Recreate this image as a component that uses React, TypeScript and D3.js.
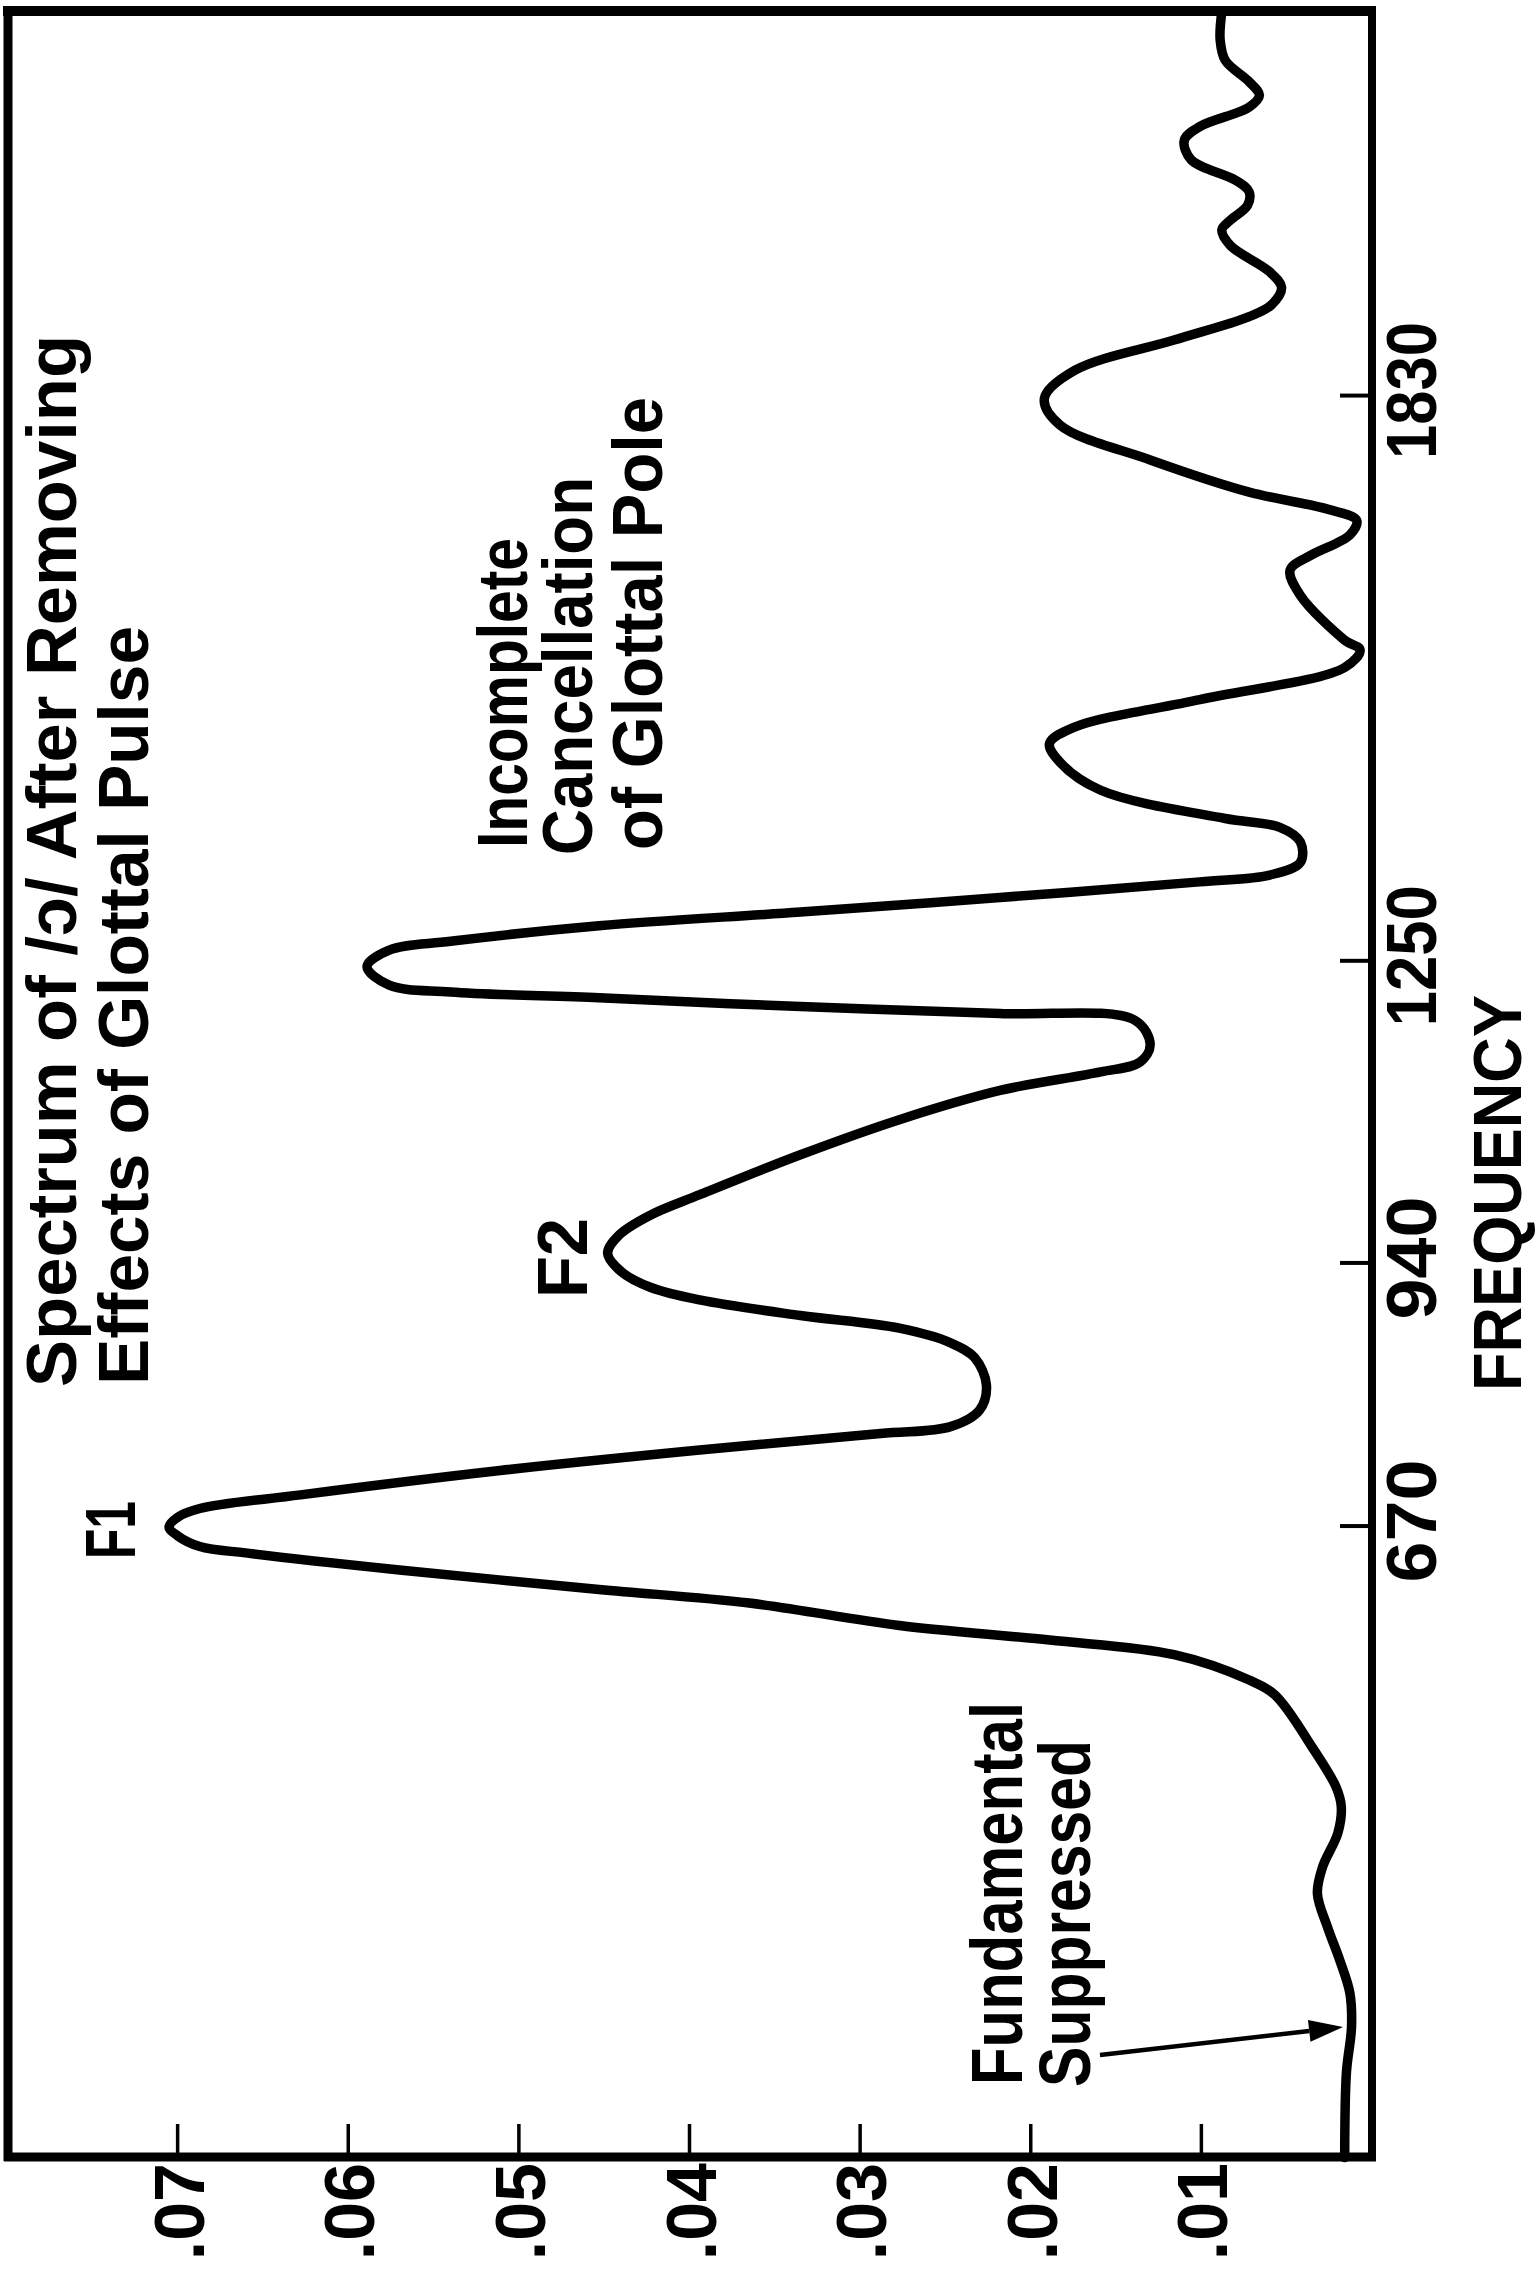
import React from 'react';
import * as d3 from 'd3';

// ---- Data (frequency in Hz, amplitude) ----
const freqHz = [22, 109, 156, 191, 225, 258, 293, 320, 355, 382, 402, 443, 497, 512, 538, 553, 568, 591, 605, 625, 642, 649, 660, 669, 679, 688, 702, 727, 748, 765, 772, 789, 815, 843, 858, 873, 886, 902, 915, 931, 950, 969, 989, 1010, 1051, 1087, 1117, 1136, 1146, 1164, 1189, 1196, 1203, 1212, 1218, 1225, 1244, 1261, 1270, 1286, 1300, 1315, 1331, 1338, 1351, 1372, 1387, 1396, 1425, 1454, 1473, 1490, 1518, 1551, 1569, 1579, 1625, 1651, 1666, 1687, 1702, 1713, 1731, 1764, 1800, 1827, 1856, 1887, 1911, 1923, 1941, 1957, 1984, 2000, 2010, 2025, 2039, 2051, 2072, 2092, 2106, 2126, 2138, 2152, 2174, 2195, 2224];
const amplitude = [0.0016, 0.0015, 0.0012, 0.0013, 0.0019, 0.0026, 0.0032, 0.0029, 0.0020, 0.0018, 0.0021, 0.0035, 0.0057, 0.0072, 0.0116, 0.0189, 0.0277, 0.0365, 0.0453, 0.0570, 0.0658, 0.0687, 0.0700, 0.0705, 0.0700, 0.0687, 0.0628, 0.0511, 0.0394, 0.0288, 0.0247, 0.0230, 0.0226, 0.0233, 0.0247, 0.0277, 0.0335, 0.0394, 0.0423, 0.0440, 0.0448, 0.0441, 0.0423, 0.0394, 0.0335, 0.0277, 0.0218, 0.0159, 0.0136, 0.0130, 0.0139, 0.0218, 0.0335, 0.0453, 0.0540, 0.0576, 0.0589, 0.0576, 0.0540, 0.0453, 0.0335, 0.0218, 0.0101, 0.0060, 0.0042, 0.0042, 0.0054, 0.0086, 0.0159, 0.0183, 0.0189, 0.0174, 0.0101, 0.0016, 0.0007, 0.0016, 0.0042, 0.0048, 0.0036, 0.0013, 0.0009, 0.0025, 0.0072, 0.0130, 0.0183, 0.0192, 0.0174, 0.0116, 0.0072, 0.0059, 0.0053, 0.0060, 0.0083, 0.0088, 0.0083, 0.0073, 0.0072, 0.0080, 0.0106, 0.0110, 0.0101, 0.0072, 0.0066, 0.0072, 0.0086, 0.0089, 0.0088];

const ampTicks = [0.01, 0.02, 0.03, 0.04, 0.05, 0.06, 0.07];
const ampTickLabels = ['.01', '.02', '.03', '.04', '.05', '.06', '.07'];
const freqTicks = [670, 940, 1250, 1830];
const freqTickLabels = ['670', '940', '1250', '1830'];
const freqTickLabelLen = [123, 123, 141, 137];

const titleLines = ['Spectrum of /ɔ/ After Removing', 'Effects of Glottal Pulse'];
const poleLines = ['Incomplete', 'Cancellation', 'of Glottal Pole'];
const fundLines = ['Fundamental', 'Suppressed'];
const axisTitle = 'FREQUENCY';

const W = 1539;
const H = 2272;
const FONT = "'Liberation Sans', Arial, Helvetica, sans-serif";

const frame = { left: 8, right: 1372, top: 11, bottom: 2157 };

type VTextProps = {
  x: number;
  y: number;
  anchor?: 'start' | 'middle' | 'end';
  size?: number;
  len?: number;
  children: React.ReactNode;
};

function VText({ x, y, anchor = 'start', size = 70, len, children }: VTextProps) {
  return (
    <text
      transform={`translate(${x},${y}) rotate(-90)`}
      textAnchor={anchor}
      fontSize={size}
      fontWeight="bold"
      fontFamily={FONT}
      fill="#000"
      textLength={len}
      lengthAdjust={len ? 'spacingAndGlyphs' : undefined}
    >
      {children}
    </text>
  );
}

export default function App() {
  // amplitude runs right-to-left, frequency runs bottom-to-top (chart rotated 90° CCW)
  const xA = d3.scaleLinear().domain([0, 0.08]).range([frame.right, 7]);
  const yF = d3.scaleLinear().domain([0, 2200]).range([2179, 35]);

  const pts = freqHz.map((f, i) => ({ f, a: amplitude[i] }));
  const line = d3
    .line<{ f: number; a: number }>()
    .x((d) => xA(d.a))
    .y((d) => yF(d.f))
    .curve(d3.curveCatmullRom.alpha(0.5));
  const pathD = line(pts) || '';

  // arrow geometry
  const tail = [1100, 2055];
  const tip = [1343, 2027];
  const dx = tip[0] - tail[0];
  const dy = tip[1] - tail[1];
  const L = Math.hypot(dx, dy);
  const ux = dx / L;
  const uy = dy / L;
  const headLen = 34;
  const headW = 11;
  const bx = tip[0] - ux * headLen;
  const by = tip[1] - uy * headLen;
  const head = `${tip[0]},${tip[1]} ${bx - uy * headW},${by + ux * headW} ${bx + uy * headW},${by - ux * headW}`;

  return (
    <svg
      width={W}
      height={H}
      viewBox={`0 0 ${W} ${H}`}
      style={{ position: 'absolute', left: 0, top: 0, display: 'block', background: '#fff' }}
    >
      <rect x={0} y={0} width={W} height={H} fill="#fff" />

      {/* frame */}
      <line x1={3} y1={frame.top} x2={frame.right + 4} y2={frame.top} stroke="#000" strokeWidth={10} />
      <line x1={frame.left} y1={frame.top - 4} x2={frame.left} y2={frame.bottom + 4} stroke="#000" strokeWidth={9} />
      <line x1={frame.right} y1={frame.top - 4} x2={frame.right} y2={frame.bottom + 4} stroke="#000" strokeWidth={8} />
      <line x1={frame.left - 4} y1={frame.bottom} x2={frame.right + 4} y2={frame.bottom} stroke="#000" strokeWidth={9} />

      {/* amplitude ticks and labels (bottom edge) */}
      {ampTicks.map((v, i) => (
        <g key={`a${i}`}>
          <line x1={xA(v)} y1={frame.bottom} x2={xA(v)} y2={frame.bottom - 33} stroke="#000" strokeWidth={3.5} />
          <VText x={xA(v) + 26} y={2163} anchor="end" size={70}>
            {ampTickLabels[i]}
          </VText>
        </g>
      ))}

      {/* frequency ticks and labels (right edge) */}
      {freqTicks.map((f, i) => (
        <g key={`f${i}`}>
          <line x1={frame.right} y1={yF(f)} x2={frame.right - 32} y2={yF(f)} stroke="#000" strokeWidth={4} />
          <VText x={1436} y={yF(f) - 5} anchor="middle" size={70} len={freqTickLabelLen[i]}>
            {freqTickLabels[i]}
          </VText>
        </g>
      ))}
      <VText x={1521} y={1391} size={68} len={396}>
        {axisTitle}
      </VText>

      {/* spectrum curve */}
      <path d={pathD} fill="none" stroke="#000" strokeWidth={9.5} strokeLinejoin="round" strokeLinecap="round" />

      {/* title */}
      <VText x={76} y={1387} size={71} len={1052}>
        {titleLines[0]}
      </VText>
      <VText x={148} y={1385} size={71} len={759}>
        {titleLines[1]}
      </VText>

      {/* formant labels */}
      <VText x={135} y={1530} anchor="middle" size={70} len={58}>
        F1
      </VText>
      <VText x={587} y={1258} anchor="middle" size={70} len={80}>
        F2
      </VText>

      {/* glottal pole note */}
      <VText x={527} y={848} size={71} len={310}>
        {poleLines[0]}
      </VText>
      <VText x={592} y={855} size={71} len={378}>
        {poleLines[1]}
      </VText>
      <VText x={662} y={850} size={71} len={453}>
        {poleLines[2]}
      </VText>

      {/* fundamental note */}
      <VText x={1022} y={2085} size={72} len={383}>
        {fundLines[0]}
      </VText>
      <VText x={1090} y={2087} size={72} len={347}>
        {fundLines[1]}
      </VText>
      <line x1={tail[0]} y1={tail[1]} x2={bx} y2={by} stroke="#000" strokeWidth={4.5} />
      <polygon points={head} fill="#000" />
    </svg>
  );
}
